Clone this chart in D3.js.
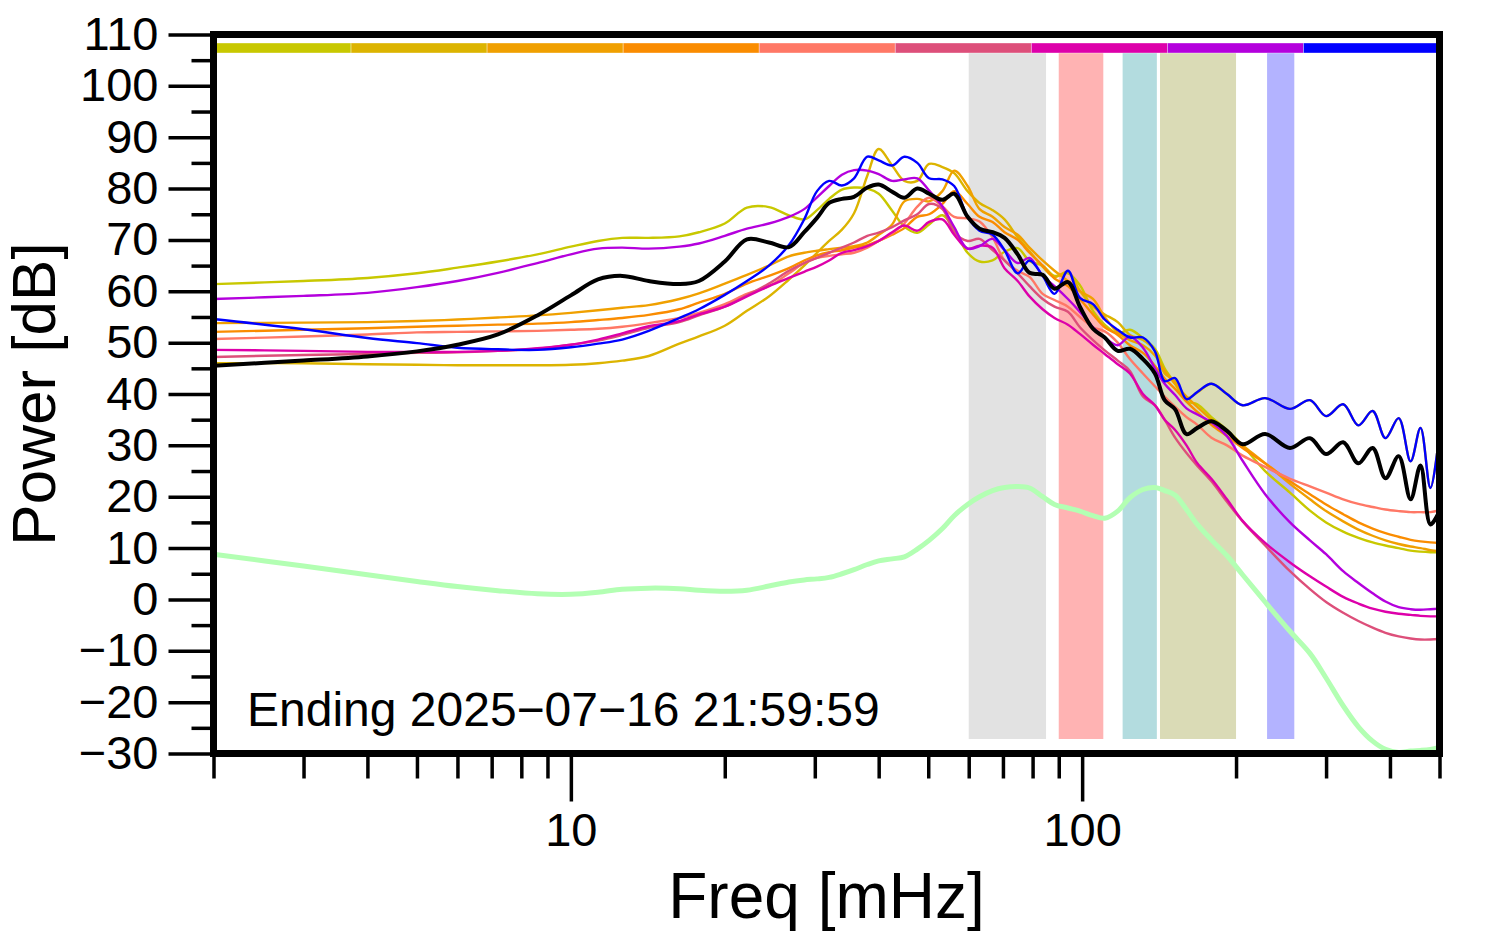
<!DOCTYPE html>
<html>
<head>
<meta charset="utf-8">
<script src="https://cdn.jsdelivr.net/npm/d3@7"></script>
<style>
  body { margin: 0; background: #fff; }
  text { font-family: "Liberation Sans", Arial, Helvetica, sans-serif; }
</style>
</head>
<body>
<div id="chart"></div>
<script>
////////////////////////////////////////////////////////////
//////////////////////// Data //////////////////////////////
////////////////////////////////////////////////////////////

// Frequency grid [mHz]
var freqs = [2, 3, 4, 5, 6, 7.2, 8.6, 10, 11.3, 12.6, 14.2,
    16.3, 17.8, 20, 22.1, 24.4, 26.7, 28.6, 30.3, 32, 33.9,
    35.8, 38, 40, 42.5, 44.9, 47.6, 50.2, 53.3, 56.2, 59.7,
    63, 66.8, 70.5, 74.8, 78.9, 83.7, 88.3, 93.8, 99, 105,
    110.7, 117.4, 124, 131.5, 138.8, 145, 152, 160, 168, 179,
    192, 206, 228, 255, 279, 300, 324, 347, 370, 392,
    416, 439, 459, 480, 500];

// One colour per hour, also used for the strip on top
var hourColors = ["#c8c800", "#dcb400", "#f0a000", "#fa8c00", "#ff7866",
    "#dd4f7a", "#dd00aa", "#b400dd", "#0000ff"];

// Power [dB] per hour
var hour1 = [61.4, 62.0, 62.6, 63.5, 64.6, 65.8, 67.2, 68.7, 69.8, 70.4, 70.4,
    70.7, 71.5, 73.2, 76.3, 76.4, 74.8, 74.0, 75.8, 78.0, 79.8,
    80.2, 80.0, 79.0, 75.7, 72.6, 71.4, 73.0, 74.8, 72.0, 67.5,
    65.8, 66.0, 67.7, 68.4, 65.9, 65.0, 63.0, 63.5, 61.2, 56.2,
    53.5, 51.8, 52.5, 50.9, 48.8, 45.0, 42.0, 38.6, 38.0, 35.5,
    33.0, 30.0, 25.0, 20.8, 17.3, 15.0, 13.2, 12.0, 11.1, 10.5,
    10.0, 9.5, 9.3, 9.2, 9.2];
var hour2 = [46.0, 46.0, 45.8, 45.7, 45.6, 45.6, 45.6, 45.7, 46.0, 46.5, 47.4,
    49.8, 51.2, 53.3, 56.2, 59.0, 62.3, 65.0, 67.5, 69.8, 72.0,
    75.2, 82.5, 87.7, 84.5, 81.5, 81.5, 84.8, 84.2, 83.0, 79.5,
    77.2, 75.8, 74.0, 70.5, 67.8, 64.8, 62.8, 63.8, 60.1, 57.0,
    55.5, 54.0, 51.5, 50.5, 48.5, 44.0, 42.5, 39.2, 40.3, 42.0,
    40.0, 37.8, 39.2, 37.1, 38.8, 35.7, 38.0, 33.9, 36.7, 31.4,
    35.3, 26.9, 33.4, 21.7, 32.4];
var hour3 = [53.8, 53.9, 54.0, 54.2, 54.5, 54.9, 55.3, 55.8, 56.3, 56.8, 57.3,
    58.5, 59.6, 61.5, 63.2, 65.0, 66.8, 67.5, 67.9, 68.2, 68.5,
    68.8, 69.5, 71.0, 73.0, 77.5, 78.0, 77.5, 79.5, 83.5, 80.5,
    76.0, 74.5, 72.5, 71.0, 68.5, 66.0, 64.0, 62.0, 60.0, 58.5,
    55.0, 52.0, 50.5, 49.5, 47.5, 44.5, 42.0, 39.5, 37.5, 35.0,
    32.5, 30.0, 26.5, 22.5, 19.5, 17.2, 15.2, 13.6, 12.4, 11.5,
    10.8, 10.3, 10.0, 9.6, 9.4];
var hour4 = [52.1, 52.5, 52.8, 53.1, 53.3, 53.5, 53.7, 54.0, 54.4, 54.8, 55.4,
    56.5, 57.8, 59.5, 61.5, 63.0, 64.5, 66.0, 67.0, 67.6, 68.0,
    68.5, 69.0, 69.8, 71.0, 72.3, 74.5, 75.0, 77.0, 79.5, 77.0,
    74.5, 73.5, 71.5, 70.0, 67.5, 65.0, 62.5, 61.0, 58.5, 55.5,
    53.0, 51.5, 49.5, 48.0, 45.5, 43.0, 41.0, 38.5, 36.5, 34.0,
    31.8, 29.5, 26.5, 23.0, 20.5, 18.5, 16.6, 15.0, 13.8, 12.9,
    12.2, 11.6, 11.3, 11.1, 11.0];
var hour5 = [50.7, 51.2, 51.6, 52.0, 52.1, 52.2, 52.3, 52.5, 52.7, 53.1, 53.8,
    54.8, 55.8, 57.5, 59.5, 61.0, 63.5, 65.5, 66.5, 66.9, 67.2,
    67.5, 68.5, 69.8, 71.3, 73.2, 76.5, 78.2, 76.5, 74.5, 74.2,
    73.6, 70.5, 66.0, 64.0, 62.8, 59.5, 58.3, 57.0, 55.0, 53.0,
    52.2, 50.0, 46.8, 44.0, 41.5, 39.5, 37.5, 35.5, 34.0, 31.5,
    30.0, 28.0, 25.8, 23.5, 22.0, 20.8, 19.5, 18.6, 18.0, 17.5,
    17.2, 17.0, 17.0, 17.0, 17.4];
var hour6 = [47.2, 47.6, 47.8, 48.0, 48.1, 48.4, 48.8, 49.6, 50.4, 51.5, 52.9,
    54.0, 55.3, 57.0, 59.2, 61.5, 64.0, 65.5, 66.5, 67.5, 68.5,
    69.5, 70.8, 71.4, 72.5, 73.8, 75.0, 77.0, 76.0, 71.5, 69.8,
    70.2, 68.0, 66.0, 63.5, 61.0, 58.5, 57.0, 56.0, 53.0, 50.5,
    48.5, 46.5, 44.5, 39.5, 37.8, 35.0, 31.5, 28.5, 26.0, 23.0,
    19.0, 15.2, 10.5, 5.5, 2.0, -0.5, -2.6, -4.2, -5.5, -6.5,
    -7.2, -7.6, -7.8, -7.8, -7.7];
var hour7 = [48.6, 48.4, 48.2, 48.2, 48.2, 48.4, 48.9, 49.6, 50.6, 51.8, 53.2,
    54.2, 55.5, 57.0, 59.0, 61.0, 62.6, 63.8, 64.8, 66.0, 67.5,
    68.0, 68.8, 69.8, 71.5, 72.8, 71.8, 73.5, 74.0, 71.0, 68.3,
    68.9, 68.5, 64.5, 62.0, 59.0, 56.5, 54.8, 53.5, 51.7, 49.6,
    47.8, 45.8, 44.0, 40.0, 37.8, 35.0, 33.0, 30.0, 26.5, 23.5,
    19.5, 15.3, 11.0, 7.2, 4.5, 2.5, 0.5, -0.8, -1.8, -2.4,
    -2.8, -3.0, -3.2, -3.3, -3.3];
var hour8 = [58.5, 59.1, 59.7, 60.8, 62.0, 63.6, 65.5, 67.2, 68.3, 68.5, 68.3,
    68.7, 69.3, 70.8, 72.2, 73.2, 74.5, 76.0, 78.3, 80.5, 82.7,
    83.6, 83.5, 82.8, 81.5, 81.8, 82.0, 79.6, 76.5, 72.5, 68.3,
    68.8, 70.2, 68.0, 65.5, 66.5, 63.0, 61.0, 58.5, 56.0, 53.0,
    51.0, 49.5, 51.2, 49.0, 45.0, 42.0, 39.8, 37.2, 36.0, 34.5,
    31.8, 27.0, 20.5, 15.0, 11.5, 8.8, 5.5, 3.2, 1.2, -0.4,
    -1.5, -1.9, -2.0, -1.9, -1.8];
var hour9 = [54.6, 52.6, 50.9, 49.9, 49.0, 48.7, 48.6, 49.1, 49.8, 50.6, 52.3,
    54.8, 56.5, 59.3, 62.0, 65.0, 69.0, 74.0, 79.5, 81.5, 80.6,
    82.0, 86.2, 85.5, 84.5, 86.2, 85.0, 82.0, 81.8, 80.5, 74.5,
    71.8, 71.0, 68.0, 63.5, 66.0, 63.0, 59.5, 64.0, 58.7, 57.5,
    54.5, 52.5, 51.0, 51.0, 48.3, 42.5, 43.1, 39.0, 40.4, 42.0,
    40.0, 37.8, 39.2, 37.1, 38.8, 35.7, 38.0, 33.9, 36.7, 31.4,
    35.3, 26.9, 33.4, 21.7, 32.4];

// Mean of the hours (black) and background level (green)
var meanPower = [45.5, 46.5, 47.3, 48.3, 49.6, 51.6, 55.3, 59.2, 62.3, 63.0, 62.0,
    61.4, 62.0, 65.8, 70.1, 69.5, 68.6, 71.5, 74.3, 77.2, 78.0,
    78.4, 80.2, 80.8, 79.4, 78.2, 80.0, 79.0, 77.8, 79.0, 74.5,
    72.2, 71.5, 70.4, 67.2, 63.6, 63.2, 60.5, 61.8, 57.0, 52.7,
    51.0, 48.4, 48.8, 46.8, 44.0, 38.8, 37.0, 32.2, 33.4, 34.7,
    32.8, 30.2, 32.2, 29.5, 31.4, 28.3, 30.6, 26.5, 29.5, 23.6,
    27.9, 19.5, 26.1, 14.6, 17.2];
var bgPower = [8.8, 6.5, 4.8, 3.5, 2.5, 1.7, 1.1, 1.0, 1.4, 2.0, 2.2,
    2.1, 1.8, 1.6, 1.8, 2.6, 3.4, 3.8, 4.0, 4.3, 5.0,
    5.8, 6.8, 7.5, 7.9, 8.3, 9.8, 11.5, 13.8, 16.3, 18.5,
    20.0, 21.2, 21.8, 22.0, 21.7, 20.0, 18.5, 17.8, 17.2, 16.3,
    15.8, 17.2, 19.8, 21.4, 21.8, 21.2, 20.3, 17.5, 14.6, 11.6,
    8.5, 4.8, -0.5, -6.2, -10.5, -15.3, -20.7, -24.8, -27.6, -29.2,
    -29.8, -29.5, -29.4, -29.2, -28.8];

// Shaded frequency bands [mHz]
var bandRanges = [[60, 85], [90, 110], [120, 140], [142, 200], [230, 260]];
var bandColors = ["#e2e2e2", "#ffb3b3", "#b3dcdf", "#dadbb6", "#b3b3ff"];

// Ticks
var yMajorTicks = [-30, -20, -10, 0, 10, 20, 30, 40, 50, 60, 70, 80, 90, 100, 110];
var yMinorTicks = [-25, -15, -5, 5, 15, 25, 35, 45, 55, 65, 75, 85, 95, 105];
var xMajorTicks = [10, 100];
var xMinorTicks = [2, 3, 4, 5, 6, 7, 8, 9, 20, 30, 40, 50, 60, 70, 80, 90, 200, 300, 400, 500];

var endLabel = "Ending 2025\u221207\u221216 21:59:59";

////////////////////////////////////////////////////////////
//////////////////////// Set-up ////////////////////////////
////////////////////////////////////////////////////////////

var width = 1494, height = 952;
var plot = { left: 213.5, right: 1439.5, top: 34.5, bottom: 753.5 };

var svg = d3.select("#chart").append("svg")
    .attr("width", width)
    .attr("height", height);

var x = d3.scaleLog().domain([2, 500]).range([plot.left, plot.right]);
var y = d3.scaleLinear().domain([-30, 110]).range([plot.bottom, plot.top]);

svg.append("defs").append("clipPath").attr("id", "plotClip")
    .append("rect")
    .attr("x", plot.left).attr("y", plot.top)
    .attr("width", plot.right - plot.left)
    .attr("height", plot.bottom - plot.top);

////////////////////////////////////////////////////////////
//////////////////////// Bands /////////////////////////////
////////////////////////////////////////////////////////////

svg.selectAll(".band")
    .data(bandRanges)
    .enter().append("rect")
    .attr("class", "band")
    .attr("x", function (d) { return x(d[0]); })
    .attr("width", function (d) { return x(d[1]) - x(d[0]); })
    .attr("y", 53)
    .attr("height", 739 - 53)
    .style("fill", function (d, i) { return bandColors[i]; });

//Hour strip along the top
var hourBand = d3.scaleBand()
    .domain(d3.range(hourColors.length))
    .range([plot.left + 1.5, plot.right]);

svg.selectAll(".hourStrip")
    .data(hourColors)
    .enter().append("rect")
    .attr("class", "hourStrip")
    .attr("x", function (d, i) { return hourBand(i); })
    .attr("width", hourBand.bandwidth())
    .attr("y", 43)
    .attr("height", 10)
    .style("fill", function (d) { return d; })
    .style("stroke", "rgba(255,255,255,0.45)")
    .style("stroke-width", 0.8);

////////////////////////////////////////////////////////////
//////////////////////// Lines /////////////////////////////
////////////////////////////////////////////////////////////

var line = d3.line()
    .x(function (d, i) { return x(freqs[i]); })
    .y(function (d) { return y(d); })
    .curve(d3.curveCatmullRom.alpha(0.5));

var lines = svg.append("g").attr("clip-path", "url(#plotClip)");

lines.append("path")
    .attr("d", line(bgPower))
    .style("fill", "none")
    .style("stroke", "#b3ffb3")
    .style("stroke-width", 5)
    .style("stroke-linejoin", "round");

var hours = [hour1, hour2, hour3, hour4, hour5, hour6, hour7, hour8, hour9];
hours.forEach(function (s, i) {
    lines.append("path")
        .attr("d", line(s))
        .style("fill", "none")
        .style("stroke", hourColors[i])
        .style("stroke-width", 2.4)
        .style("stroke-linejoin", "round");
});

lines.append("path")
    .attr("d", line(meanPower))
    .style("fill", "none")
    .style("stroke", "#000")
    .style("stroke-width", 4)
    .style("stroke-linejoin", "round");

////////////////////////////////////////////////////////////
//////////////////////// Axes //////////////////////////////
////////////////////////////////////////////////////////////

function styleAxis(g) {
    g.select(".domain").remove();
    g.selectAll(".tick line").attr("stroke", "#000").attr("stroke-width", 3.5);
    g.selectAll(".tick text")
        .attr("fill", "#000")
        .style("font-size", "47px")
        .style("font-family", "'Liberation Sans', Arial, sans-serif");
}

svg.append("g")
    .attr("transform", "translate(" + plot.left + ",0)")
    .call(d3.axisLeft(y).tickValues(yMinorTicks).tickSize(22).tickFormat(""))
    .call(styleAxis);

svg.append("g")
    .attr("transform", "translate(" + plot.left + ",0)")
    .call(d3.axisLeft(y).tickValues(yMajorTicks).tickSize(45).tickPadding(10).tickFormat(d3.format("d")))
    .call(styleAxis);

svg.append("g")
    .attr("transform", "translate(0," + plot.bottom + ")")
    .call(d3.axisBottom(x).tickValues(xMinorTicks).tickSize(25).tickFormat(""))
    .call(styleAxis);

svg.append("g")
    .attr("transform", "translate(0," + plot.bottom + ")")
    .call(d3.axisBottom(x).tickValues(xMajorTicks).tickSize(48).tickPadding(11).tickFormat(d3.format("d")))
    .call(styleAxis);

//Frame
svg.append("rect")
    .attr("x", plot.left).attr("y", plot.top)
    .attr("width", plot.right - plot.left)
    .attr("height", plot.bottom - plot.top)
    .style("fill", "none")
    .style("stroke", "#000")
    .style("stroke-width", 7);

////////////////////////////////////////////////////////////
//////////////////////// Labels ////////////////////////////
////////////////////////////////////////////////////////////

svg.append("text")
    .attr("x", (plot.left + plot.right) / 2)
    .attr("y", 918)
    .style("text-anchor", "middle")
    .style("font-size", "64px")
    .text("Freq [mHz]");

svg.append("text")
    .attr("transform", "translate(55," + ((plot.top + plot.bottom) / 2) + ") rotate(-90)")
    .style("text-anchor", "middle")
    .style("font-size", "62px")
    .text("Power [dB]");

svg.append("text")
    .attr("x", 247)
    .attr("y", 726)
    .style("font-size", "48px")
    .text(endLabel);
</script>
</body>
</html>
